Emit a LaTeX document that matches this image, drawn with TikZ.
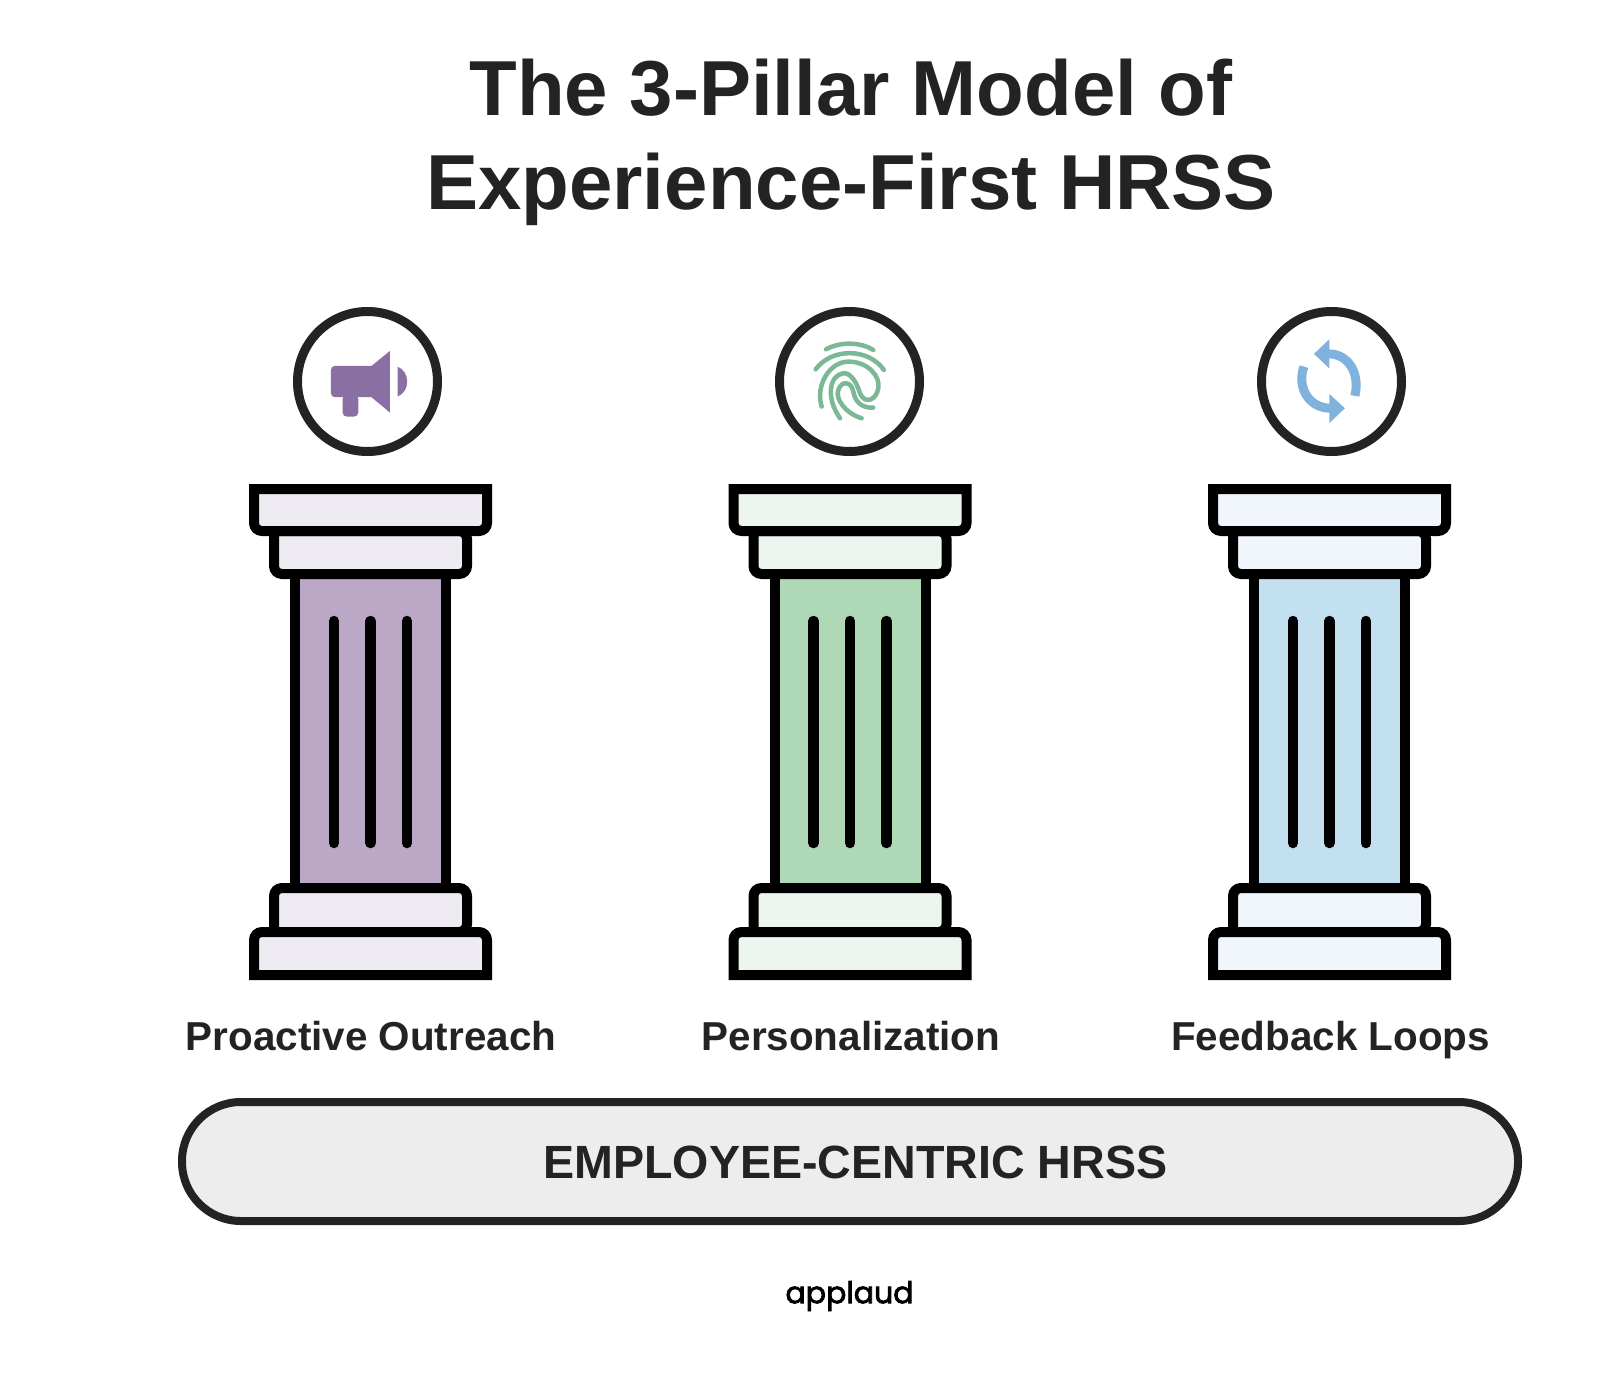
\documentclass[tikz,border=0pt]{standalone}
\usepackage{fontspec}
\setmainfont{Liberation Sans}
\newfontfamily\brandfont[FakeBold=2.5]{Poppins}
\definecolor{inkdark}{HTML}{232323}
\definecolor{purpleshaft}{HTML}{BBA7C6}
\definecolor{purplecap}{HTML}{EEECF2}
\definecolor{purpleicon}{HTML}{8A6FA2}
\definecolor{greenshaft}{HTML}{AFD8B7}
\definecolor{greencap}{HTML}{EDF5EF}
\definecolor{greenicon}{HTML}{7AB896}
\definecolor{blueshaft}{HTML}{C3E0F0}
\definecolor{bluecap}{HTML}{F0F6FC}
\definecolor{blueicon}{HTML}{7FB2DC}
\tikzset{
    pillarline/.style={draw=black,line width=10pt,line join=miter},
    flute/.style={draw=black,line width=10.5pt,line cap=round},
    iconring/.style={circle,draw=inkdark,line width=9pt,minimum size=140pt,inner sep=0pt,fill=white},
    pillarlabel/.style={anchor=base,font=\bfseries\fontsize{40.4}{46}\selectfont,text=inkdark},
}
% one pillar: centre x, shaft colour, cap colour
\newcommand{\pillar}[3]{
    \begin{scope}[shift={(#1,0)}]
        \draw[pillarline,fill=#2] (-75.5,570) rectangle (75.5,892);
        \draw[pillarline,fill=#3] (-96.5,531) [rounded corners=8pt] -- (-96.5,574) -- (96.5,574) -- (96.5,531) [sharp corners] -- cycle;
        \draw[pillarline,fill=#3] (-116.5,489) -- (116.5,489) [rounded corners=8pt] -- (116.5,531) -- (-116.5,531) [sharp corners] -- cycle;
        \draw[pillarline,fill=#3] (-96.5,932) [rounded corners=8pt] -- (-96.5,888) -- (96.5,888) -- (96.5,932) [sharp corners] -- cycle;
        \draw[pillarline,fill=#3] (-116.5,975) [rounded corners=8pt] -- (-116.5,932) -- (116.5,932) [sharp corners] -- (116.5,975) -- cycle;
        \draw[flute] (-36.5,621) -- (-36.5,843);
        \draw[flute] (0,621) -- (0,843);
        \draw[flute] (36.5,621) -- (36.5,843);
    \end{scope}
}
\begin{document}
\begin{tikzpicture}[x=1pt,y=-1pt]
    \useasboundingbox (0,0) rectangle (1600,1380);
    \fill[white] (0,0) rectangle (1600,1380);
    \node[align=center,font=\bfseries\fontsize{78}{94}\selectfont,text=inkdark] (title) at (851,142) {The 3-Pillar Model of\\Experience-First HRSS};
    % the three pillars
    \pillar{370.5}{purpleshaft}{purplecap}
    \pillar{850}{greenshaft}{greencap}
    \pillar{1329.5}{blueshaft}{bluecap}
    \node[iconring] (ringa) at (367.5,381.5) {};
    \node[iconring] (ringb) at (849.5,381.5) {};
    \node[iconring] (ringc) at (1331.5,381.5) {};
    % megaphone
    \begin{scope}[shift={(280,290)},x=0.333pt,y=-0.333pt]
        \fill[purpleicon] (165,228) -- (275,228) -- (330,183) -- (330,368) -- (275,322) -- (165,322) .. controls (158,322) and (153,317) .. (153,310) -- (153,240) .. controls (153,233) and (158,228) .. (165,228) -- cycle;
        \fill[purpleicon,rounded corners=4pt] (188,315) -- (235,315) -- (235,380) -- (188,380) -- cycle;
        \fill[purpleicon] (353,230) .. controls (372,238) and (382,255) .. (382,275) .. controls (382,295) and (372,312) .. (353,320) -- cycle;
    \end{scope}
    % fingerprint
    \begin{scope}[shift={(810,335)},x=0.333pt,y=-0.333pt]
        \draw[greenicon,line width=4.5pt,line cap=round]
            (48,43) .. controls (90,20) and (150,20) .. (190,45)
            (17,103) .. controls (65,38) and (175,38) .. (222,105)
            (35,215) .. controls (15,150) and (60,80) .. (115,80) .. controls (175,80) and (212,125) .. (205,160) .. controls (200,195) and (165,210) .. (150,175) .. controls (140,140) and (120,112) .. (100,115) .. controls (60,120) and (45,185) .. (90,250)
            (155,250) .. controls (105,235) and (75,190) .. (85,165) .. controls (95,135) and (125,140) .. (130,170) .. controls (135,200) and (155,220) .. (190,218);
    \end{scope}
    % refresh arrows
    \begin{scope}[shift={(1240,290)},x=0.333pt,y=-0.333pt]
        \draw[blueicon,line width=9pt] (265,192) .. controls (320,190) and (362,245) .. (345,318);
        \fill[blueicon] (222,192) -- (268,148) -- (268,235) -- cycle;
        \draw[blueicon,line width=9pt] (192,230) .. controls (170,290) and (205,355) .. (272,355);
        \fill[blueicon] (315,355) -- (268,312) -- (268,400) -- cycle;
    \end{scope}
    \node[pillarlabel] (outreach) at (371,1050) {Proactive Outreach};
    \node[pillarlabel] (personal) at (851,1050) {Personalization};
    \node[pillarlabel] (feedback) at (1330.5,1050) {Feedback Loops};
    \draw[draw=inkdark,line width=8pt,fill=black!7] (182,1221) [rounded corners=59pt] -- (182,1102) -- (1518,1102) -- (1518,1221) -- cycle;
    \node[font=\bfseries\fontsize{46.6}{54}\selectfont,text=inkdark] (base) at (855.5,1162) {EMPLOYEE-CENTRIC HRSS};
    \node[font=\brandfont\fontsize{30}{36}\selectfont,text=black] (brand) at (849.5,1296) {applaud};
\end{tikzpicture}
\end{document}
